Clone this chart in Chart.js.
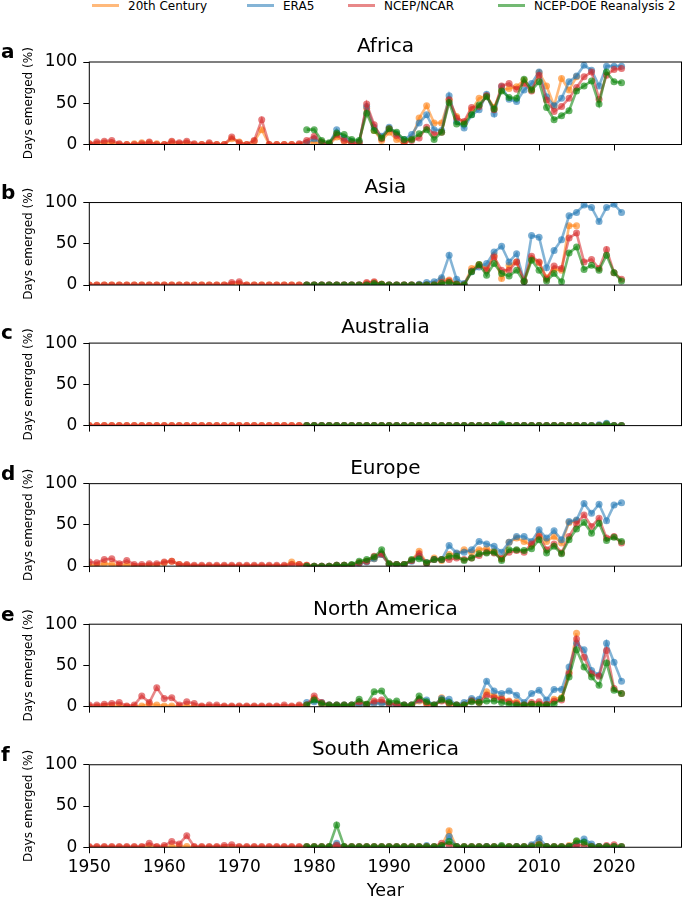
<!DOCTYPE html>
<html>
<head>
<meta charset="utf-8">
<script src="https://cdn.jsdelivr.net/npm/chart.js@4.4.1/dist/chart.umd.min.js"></script>
<style>
  body { margin: 0; background: #fff; width: 685px; height: 899px; overflow: hidden; position: relative; font-family: "DejaVu Sans", sans-serif; }
  .panel { position: absolute; left: 0; }
  .leg-line { position: absolute; top: 4px; height: 2.8px; width: 27px; }
  .leg-text { position: absolute; top: 0; font-size: 12px; line-height: 12px; white-space: nowrap; color: #000; }
</style>
</head>
<body>
<div id="legend"></div>
<script>
//Series names and colours
const seriesNames = ["20th Century", "ERA5", "NCEP/NCAR", "NCEP-DOE Reanalysis 2"];
const seriesRGB = ["255,127,14", "31,119,180", "214,39,40", "0,128,0"];
//first year of each series
const seriesStart = [1950, 1979, 1950, 1979];
const regions = ["Africa", "Asia", "Australia", "Europe", "North America", "South America"];
const letters = ["a", "b", "c", "d", "e", "f"];
const yearTicks = [1950, 1960, 1970, 1980, 1990, 2000, 2010, 2020];
const valueTicks = [0, 50, 100];

//Days emerged (%) -- 20th Century 1950-2015, NCEP/NCAR 1950-2021, ERA5 & NCEP-DOE 1979-2021
const africa20c = [
  1, 1, 2, 2, 0, 0, 1, 2, 2, 1,
  0, 3, 1, 2, 0, 0, 1, 0, 0, 7,
  3, 0, 4, 18, 0, 0, 0, 0, 0, 2,
  3, 1, 0, 9, 4, 2, 2, 44, 17, 5,
  15, 6, 1, 7, 32, 47, 26, 26, 55, 34,
  26, 42, 56, 59, 45, 66, 68, 70, 78, 67,
  87, 71, 47, 80, 66, 82];
const africaEra5 = [
  2,
  7, 2, 1, 18, 8, 4, 3, 46, 21, 10,
  21, 13, 6, 12, 26, 36, 18, 17, 59, 28,
  20, 36, 42, 61, 37, 70, 55, 52, 66, 74,
  88, 58, 47, 56, 76, 83, 96, 90, 71, 95,
  95, 95];
const africaNcep = [
  1, 3, 4, 5, 1, 0, 0, 1, 3, 0,
  0, 4, 2, 4, 1, 0, 2, 0, 0, 9,
  2, 0, 5, 30, 0, 0, 0, 0, 1, 5,
  10, 3, 1, 12, 5, 2, 2, 49, 24, 7,
  19, 11, 3, 5, 8, 21, 12, 15, 54, 32,
  28, 45, 46, 59, 42, 71, 74, 67, 74, 65,
  84, 54, 40, 46, 56, 69, 82, 88, 55, 84,
  91, 92];
const africaDoe = [
  18,
  18, 5, 2, 14, 12, 6, 5, 38, 17, 8,
  19, 15, 6, 6, 13, 18, 6, 15, 51, 25,
  25, 36, 48, 58, 43, 65, 57, 56, 79, 66,
  76, 45, 30, 35, 41, 65, 71, 77, 49, 88,
  76, 75];

const asia20c = [
  0, 0, 0, 0, 0, 0, 0, 0, 0, 0,
  0, 0, 0, 0, 0, 0, 0, 0, 0, 1,
  2, 0, 0, 0, 0, 0, 0, 0, 0, 0,
  0, 0, 0, 0, 0, 0, 0, 2, 3, 1,
  0, 0, 0, 0, 0, 0, 1, 7, 6, 2,
  1, 20, 25, 20, 36, 8, 24, 28, 5, 32,
  27, 9, 19, 18, 72, 72];
const asiaEra5 = [
  0,
  0, 0, 0, 0, 0, 0, 0, 0, 1, 0,
  0, 0, 0, 0, 1, 3, 4, 9, 36, 7,
  2, 16, 22, 26, 40, 47, 28, 38, 5, 60,
  58, 21, 42, 55, 84, 88, 97, 94, 77, 94,
  98, 88];
const asiaNcep = [
  0, 0, 0, 0, 0, 0, 0, 0, 0, 0,
  0, 0, 0, 0, 0, 0, 0, 0, 0, 3,
  4, 0, 0, 0, 0, 0, 0, 0, 0, 0,
  0, 0, 0, 0, 0, 0, 0, 3, 4, 1,
  0, 0, 0, 0, 0, 0, 0, 3, 5, 1,
  0, 17, 24, 18, 34, 18, 18, 28, 5, 35,
  28, 7, 23, 20, 57, 63, 28, 31, 20, 43,
  15, 7];
const asiaDoe = [
  0,
  0, 0, 0, 0, 0, 0, 0, 0, 2, 1,
  0, 0, 0, 0, 0, 0, 0, 2, 3, 1,
  0, 16, 25, 12, 26, 14, 11, 18, 4, 30,
  18, 5, 14, 4, 39, 46, 19, 24, 18, 36,
  15, 5];

const australia20c = [
  0, 0, 0, 0, 0, 0, 0, 0, 0, 0,
  0, 0, 0, 0, 0, 0, 0, 0, 0, 0,
  0, 0, 0, 0, 0, 0, 0, 0, 0, 0,
  0, 0, 0, 0, 0, 0, 0, 0, 0, 0,
  0, 0, 0, 0, 0, 0, 0, 0, 0, 0,
  0, 0, 0, 0, 0, 0, 0, 0, 0, 0,
  0, 0, 0, 0, 0, 0];
const australiaEra5 = [
  0,
  0, 0, 0, 0, 0, 0, 0, 0, 0, 0,
  0, 0, 0, 0, 0, 0, 0, 0, 0, 0,
  0, 0, 0, 0, 0, 1, 0, 0, 0, 0,
  0, 0, 0, 0, 0, 0, 0, 0, 1, 3,
  0, 0];
const australiaNcep = [
  0, 0, 0, 0, 0, 0, 0, 0, 0, 0,
  0, 0, 0, 0, 0, 0, 0, 0, 0, 0,
  0, 0, 0, 0, 0, 0, 0, 0, 0, 0,
  0, 0, 0, 0, 0, 0, 0, 0, 0, 0,
  0, 0, 0, 0, 0, 0, 0, 0, 0, 0,
  0, 0, 0, 0, 0, 0, 0, 0, 0, 0,
  0, 0, 0, 0, 0, 0, 0, 0, 0, 1,
  0, 0];
const australiaDoe = [
  0,
  0, 0, 0, 0, 0, 0, 0, 0, 0, 0,
  0, 0, 0, 0, 0, 0, 0, 0, 0, 0,
  0, 0, 0, 0, 0, 2, 0, 0, 0, 0,
  0, 0, 0, 0, 0, 0, 0, 0, 0, 2,
  0, 0];

const europe20c = [
  1, 1, 3, 2, 1, 2, 0, 0, 1, 1,
  4, 6, 2, 1, 0, 0, 0, 0, 0, 0,
  0, 0, 0, 0, 0, 0, 0, 5, 2, 1,
  0, 0, 0, 1, 1, 1, 4, 6, 9, 14,
  2, 2, 2, 7, 18, 4, 10, 7, 14, 15,
  20, 17, 20, 21, 18, 9, 29, 34, 30, 25,
  38, 30, 36, 28, 53, 55];
const europeEra5 = [
  0,
  0, 0, 0, 1, 1, 1, 3, 5, 9, 14,
  2, 2, 2, 6, 12, 4, 8, 8, 25, 16,
  17, 20, 30, 27, 24, 17, 29, 36, 36, 30,
  44, 34, 43, 32, 54, 56, 76, 64, 75, 55,
  74, 77];
const europeNcep = [
  5, 4, 8, 9, 3, 7, 2, 2, 3, 3,
  5, 6, 2, 2, 1, 1, 1, 1, 1, 1,
  1, 1, 1, 1, 1, 1, 1, 2, 2, 1,
  0, 0, 0, 1, 1, 1, 4, 6, 12, 15,
  3, 2, 2, 7, 15, 3, 8, 8, 8, 10,
  8, 10, 13, 17, 16, 9, 17, 19, 17, 27,
  36, 20, 27, 16, 36, 51, 62, 48, 58, 34,
  36, 28];
const europeDoe = [
  0,
  0, 0, 0, 1, 1, 2, 6, 8, 11, 20,
  3, 2, 2, 8, 9, 4, 8, 8, 12, 12,
  7, 10, 15, 16, 17, 7, 20, 20, 19, 21,
  32, 16, 24, 15, 32, 45, 53, 40, 52, 31,
  35, 30];

const northAmerica20c = [
  0, 0, 1, 1, 1, 0, 0, 1, 3, 2,
  1, 1, 0, 1, 0, 0, 0, 0, 0, 0,
  0, 0, 0, 0, 0, 0, 0, 0, 1, 2,
  10, 3, 1, 1, 1, 1, 3, 2, 5, 5,
  3, 3, 1, 1, 7, 4, 1, 11, 4, 1,
  1, 8, 6, 18, 13, 11, 7, 6, 2, 3,
  3, 2, 9, 11, 42, 89];
const northAmericaEra5 = [
  5,
  6, 5, 2, 2, 2, 2, 3, 2, 4, 4,
  3, 2, 2, 2, 8, 8, 2, 10, 9, 2,
  5, 10, 9, 31, 19, 16, 19, 14, 5, 16,
  20, 8, 21, 21, 48, 77, 69, 44, 38, 77,
  54, 31];
const northAmericaNcep = [
  2, 2, 3, 4, 5, 1, 2, 13, 5, 23,
  10, 11, 2, 6, 4, 1, 2, 2, 1, 1,
  1, 1, 1, 1, 1, 1, 2, 1, 2, 2,
  13, 5, 2, 2, 2, 2, 6, 3, 7, 8,
  4, 3, 2, 2, 9, 4, 2, 7, 4, 2,
  2, 7, 5, 14, 11, 9, 6, 4, 2, 5,
  6, 3, 7, 8, 40, 82, 60, 40, 37, 68,
  22, 16];
const northAmericaDoe = [
  2,
  8, 4, 2, 2, 2, 2, 9, 3, 18, 19,
  6, 7, 2, 2, 13, 6, 2, 8, 5, 2,
  2, 6, 5, 7, 7, 5, 3, 2, 2, 3,
  2, 2, 3, 10, 36, 69, 48, 36, 26, 53,
  20, 16];

const southAmerica20c = [
  0, 0, 0, 0, 0, 0, 0, 0, 1, 0,
  0, 1, 1, 1, 0, 0, 0, 0, 0, 0,
  0, 0, 0, 0, 0, 0, 0, 0, 0, 0,
  0, 0, 0, 3, 0, 0, 0, 0, 0, 0,
  0, 0, 0, 0, 0, 0, 0, 2, 20, 0,
  0, 0, 0, 0, 0, 0, 0, 0, 0, 2,
  6, 0, 0, 0, 2, 7];
const southAmericaEra5 = [
  0,
  0, 0, 0, 5, 0, 0, 0, 0, 0, 0,
  0, 0, 0, 0, 0, 2, 0, 0, 13, 1,
  0, 0, 0, 1, 0, 1, 0, 1, 0, 3,
  11, 1, 0, 0, 1, 4, 10, 4, 1, 1,
  1, 0];
const southAmericaNcep = [
  1, 1, 1, 1, 1, 1, 1, 1, 5, 1,
  2, 7, 4, 14, 1, 1, 1, 1, 2, 3,
  1, 1, 1, 1, 1, 1, 1, 1, 1, 1,
  1, 1, 1, 2, 1, 1, 1, 1, 1, 1,
  1, 1, 1, 1, 1, 1, 1, 5, 3, 1,
  1, 1, 1, 1, 1, 1, 1, 1, 1, 1,
  3, 1, 1, 1, 1, 2, 3, 1, 1, 2,
  3, 1];
const southAmericaDoe = [
  1,
  1, 1, 1, 27, 1, 1, 1, 1, 1, 1,
  1, 1, 1, 1, 1, 1, 1, 2, 7, 1,
  1, 1, 1, 1, 1, 2, 1, 1, 1, 1,
  3, 1, 1, 1, 1, 8, 6, 1, 1, 1,
  1, 1];

//series for each region, in legend order
const regionSeries = [
  [africa20c, africaEra5, africaNcep, africaDoe],
  [asia20c, asiaEra5, asiaNcep, asiaDoe],
  [australia20c, australiaEra5, australiaNcep, australiaDoe],
  [europe20c, europeEra5, europeNcep, europeDoe],
  [northAmerica20c, northAmericaEra5, northAmericaNcep, northAmericaDoe],
  [southAmerica20c, southAmericaEra5, southAmericaNcep, southAmericaDoe],
];

const rgba = (k, a) => `rgba(${seriesRGB[k]},${a})`;
const toPoints = (start, values) => values.map((v, i) => ({ x: start + i, y: v }));

//Legend along the top
const legend = document.getElementById("legend");
const legendLeft = [92, 247, 348, 498];
seriesNames.forEach((name, k) => {
  const line = document.createElement("div");
  line.className = "leg-line";
  line.style.left = legendLeft[k] + "px";
  line.style.background = rgba(k, 0.55);
  const text = document.createElement("span");
  text.className = "leg-text";
  text.style.left = legendLeft[k] + 36 + "px";
  text.textContent = name;
  legend.appendChild(line);
  legend.appendChild(text);
});

//Box, panel title and panel letter
const panelDecor = {
  id: "panelDecor",
  afterDraw(chart, args, opts) {
    const { ctx, chartArea: a } = chart;
    ctx.save();
    ctx.strokeStyle = "#000";
    ctx.lineWidth = 1;
    ctx.strokeRect(a.left, a.top, a.right - a.left, a.bottom - a.top);
    ctx.fillStyle = "#000";
    ctx.textBaseline = "alphabetic";
    ctx.textAlign = "center";
    ctx.font = '20px "DejaVu Sans"';
    ctx.fillText(opts.title, (a.left + a.right) / 2, a.top - 9.7);
    ctx.textAlign = "left";
    ctx.font = 'bold 20px "DejaVu Sans"';
    ctx.fillText(opts.letter, 1, a.top - 3.7);
    ctx.restore();
  },
};

Chart.defaults.font.family = '"DejaVu Sans", sans-serif';
Chart.defaults.color = "#000";

const tickGrid = { display: true, drawOnChartArea: false, drawTicks: true, tickLength: 6, color: "#000", lineWidth: 1 };

regions.forEach((region, i) => {
  const last = i === regions.length - 1;
  const plotTop = 62 + 140.55 * i;
  const top = Math.floor(plotTop - 42);
  const padTop = plotTop - top;
  const xHeight = last ? 54.5 : 18.5;
  const height = Math.round(padTop + 82.5 + xHeight);

  const div = document.createElement("div");
  div.className = "panel";
  div.style.top = top + "px";
  const canvas = document.createElement("canvas");
  canvas.width = 685;
  canvas.height = height;
  div.appendChild(canvas);
  document.body.appendChild(div);

  new Chart(canvas, {
    type: "line",
    data: {
      datasets: seriesNames.map((name, k) => ({
        label: name,
        data: toPoints(seriesStart[k], regionSeries[i][k]),
        borderColor: rgba(k, 0.55),
        backgroundColor: rgba(k, 0.6),
        pointBackgroundColor: rgba(k, 0.6),
        pointBorderWidth: 0,
        pointRadius: 3.5,
        pointHoverRadius: 3.5,
        borderWidth: 2.6,
        tension: 0,
        fill: false,
        //later series drawn on top, as in the original
        order: 3 - k,
      })),
    },
    options: {
      responsive: false,
      animation: false,
      events: [],
      layout: { padding: { top: padTop, left: 0, right: 2.7, bottom: height - padTop - 82.5 - xHeight } },
      plugins: {
        legend: { display: false },
        tooltip: { enabled: false },
        panelDecor: { title: region, letter: letters[i] },
      },
      scales: {
        x: {
          type: "linear",
          min: 1950,
          max: 2029,
          afterBuildTicks: (s) => { s.ticks = yearTicks.map((v) => ({ value: v })); },
          afterFit: (s) => { s.height = xHeight; },
          grid: tickGrid,
          border: { display: false },
          ticks: { display: last, font: { size: 17 }, padding: 4.5, maxRotation: 0, callback: (v) => String(v) },
          title: { display: last, text: "Year", font: { size: 17.5 }, padding: 0 },
        },
        y: {
          min: 0,
          max: 100,
          afterBuildTicks: (s) => { s.ticks = valueTicks.map((v) => ({ value: v })); },
          afterFit: (s) => { s.width = 89.3; },
          grid: tickGrid,
          border: { display: false },
          ticks: { font: { size: 17 }, padding: 6, callback: (v) => String(v) },
          title: { display: true, text: "Days emerged (%)", font: { size: 12 }, padding: { top: 21.8, bottom: 0 } },
        },
      },
    },
    plugins: [panelDecor],
  });
});
</script>
</body>
</html>
